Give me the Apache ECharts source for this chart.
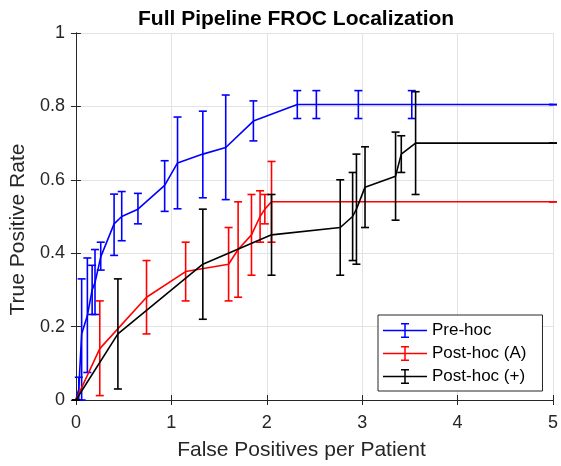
<!DOCTYPE html>
<html>
<head>
<meta charset="utf-8">
<script src="https://cdn.jsdelivr.net/npm/echarts@6/dist/echarts.min.js"></script>
<style>
  html, body { margin: 0; padding: 0; background: #ffffff; }
  #chart { width: 561px; height: 466px; }
</style>
</head>
<body>
<div id="chart"></div>
<script>
// ---- Data ----
const xTicks = [0, 1, 2, 3, 4, 5];
const yTicks = [0, 0.2, 0.4, 0.6, 0.8, 1];

const seriesNames = ['Pre-hoc', 'Post-hoc (A)', 'Post-hoc (+)'];
const seriesColors = ['#0000ff', '#ff0000', '#000000'];

// Pre-hoc
const preFP  = [0, 0.03, 0.06, 0.12, 0.17, 0.20, 0.26, 0.40, 0.48, 0.65, 0.93, 1.065, 1.33, 1.57, 1.86, 2.32, 2.52, 2.96, 3.52, 5];
const preTPR = [0, 0.03, 0.18, 0.23, 0.30, 0.32, 0.39, 0.48, 0.50, 0.52, 0.585, 0.646, 0.67, 0.688, 0.76, 0.805, 0.805, 0.805, 0.805, 0.805];
const preLo  = [0, 0, 0, 0.075, 0.233, 0.233, 0.354, 0.394, 0.434, 0.48, 0.514, 0.521, 0.551, 0.546, 0.706, 0.767, 0.767, 0.767, 0.767, 0.805];
const preHi  = [0, 0.062, 0.33, 0.387, 0.367, 0.41, 0.43, 0.561, 0.568, 0.563, 0.652, 0.771, 0.787, 0.831, 0.815, 0.843, 0.843, 0.843, 0.843, 0.805];

// Post-hoc (A)
const postAFP  = [0, 0.25, 0.74, 1.15, 1.60, 1.70, 1.84, 1.93, 1.98, 2.05, 5];
const postATPR = [0, 0.14, 0.28, 0.35, 0.37, 0.41, 0.45, 0.50, 0.52, 0.54, 0.54];
const postALo  = [0, 0.012, 0.18, 0.27, 0.27, 0.28, 0.34, 0.43, 0.48, 0.43, 0.54];
const postAHi  = [0, 0.27, 0.38, 0.43, 0.47, 0.54, 0.56, 0.57, 0.56, 0.65, 0.54];

// Post-hoc (+)
const postPFP  = [0, 0.44, 1.33, 2.05, 2.77, 2.90, 2.94, 3.03, 3.35, 3.41, 3.56, 5];
const postPTPR = [0, 0.18, 0.37, 0.45, 0.47, 0.50, 0.52, 0.58, 0.61, 0.67, 0.70, 0.70];
const postPLo  = [0, 0.03, 0.22, 0.34, 0.34, 0.38, 0.37, 0.47, 0.49, 0.62, 0.56, 0.70];
const postPHi  = [0, 0.33, 0.52, 0.56, 0.60, 0.62, 0.67, 0.69, 0.73, 0.72, 0.84, 0.70];

// ---- Build ----
const groups = [
  [preFP, preTPR, preLo, preHi],
  [postAFP, postATPR, postALo, postAHi],
  [postPFP, postPTPR, postPLo, postPHi]
];

const FONT = 'Liberation Sans, Arial, Helvetica, sans-serif';
const TXT = '#262626';
const LW = 1.6;
const CAP = 4;

const legendIcon = 'path://M0,6.75H44V8.25H0Z M21.25,0H22.75V15H21.25Z M18,0H26V1.5H18Z M18,13.5H26V15H18Z';

function errRender(color) {
  return function (params, api) {
    const x = api.value(0), lo = api.value(1), hi = api.value(2);
    const t = api.coord([x, hi]);
    const b = api.coord([x, lo]);
    const st = { stroke: color, lineWidth: LW, fill: null };
    return {
      type: 'group',
      children: [
        { type: 'line', shape: { x1: t[0], y1: t[1], x2: b[0], y2: b[1] }, style: st },
        { type: 'line', shape: { x1: t[0] - CAP, y1: t[1], x2: t[0] + CAP, y2: t[1] }, style: st },
        { type: 'line', shape: { x1: b[0] - CAP, y1: b[1], x2: b[0] + CAP, y2: b[1] }, style: st }
      ]
    };
  };
}

const series = [];
groups.forEach((g, i) => {
  const [fp, tpr, lo, hi] = g;
  series.push({
    name: seriesNames[i],
    type: 'line',
    data: fp.map((v, k) => [v, tpr[k]]),
    symbol: 'none',
    lineStyle: { color: seriesColors[i], width: LW },
    itemStyle: { color: seriesColors[i] },
    clip: false,
    z: 2 + i * 2,
    animation: false
  });
  series.push({
    name: seriesNames[i],
    type: 'custom',
    data: fp.map((v, k) => [v, lo[k], hi[k]]),
    encode: { x: 0, y: [1, 2] },
    renderItem: errRender(seriesColors[i]),
    itemStyle: { color: seriesColors[i] },
    clip: false,
    z: 3 + i * 2,
    animation: false
  });
});

const axisCommon = {
  axisLine: { show: true, lineStyle: { color: TXT, width: 1 } },
  axisTick: { show: true, inside: true, length: 5, lineStyle: { color: TXT, width: 1 } },
  splitLine: { show: false }
};

const option = {
  animation: false,
  backgroundColor: '#ffffff',
  title: {
    text: 'Full Pipeline FROC Localization',
    left: 133,
    top: 4,
    textStyle: { fontFamily: FONT, fontSize: 21, fontWeight: 'bold', color: '#000000' }
  },
  grid: { left: 75, right: 4, top: 33, bottom: 60, containLabel: false },
  legend: {
    orient: 'vertical',
    left: 378,
    top: 315,
    itemWidth: 44,
    itemHeight: 15,
    itemGap: 6,
    padding: [7, 16, 6, 5],
    backgroundColor: '#ffffff',
    borderColor: TXT,
    borderWidth: 1,
    borderRadius: 0,
    textStyle: { fontFamily: FONT, fontSize: 17, color: '#000000' },
    itemStyle: { borderWidth: 0 },
    data: seriesNames.map((n, i) => ({ name: n, icon: legendIcon, itemStyle: { color: seriesColors[i], borderWidth: 0 } }))
  },
  xAxis: [
    Object.assign({}, axisCommon, {
      type: 'value', min: xTicks[0], max: xTicks[xTicks.length - 1], interval: 1,
      position: 'bottom',
      splitLine: { show: true, lineStyle: { color: '#e3e3e3', width: 1 } },
      axisLabel: { margin: 14, fontFamily: FONT, fontSize: 18, color: TXT, formatter: v => String(v) },
      name: 'False Positives per Patient',
      nameLocation: 'middle',
      nameGap: 40,
      nameTextStyle: { fontFamily: FONT, fontSize: 21, color: TXT, padding: [0, 26, 0, 0] }
    }),
    Object.assign({}, axisCommon, {
      type: 'value', min: xTicks[0], max: xTicks[xTicks.length - 1], interval: 1,
      position: 'top', axisLabel: { show: false }
    })
  ],
  yAxis: [
    Object.assign({}, axisCommon, {
      type: 'value', min: yTicks[0], max: yTicks[yTicks.length - 1], interval: 0.2,
      position: 'left',
      splitLine: { show: true, lineStyle: { color: '#e3e3e3', width: 1 } },
      axisLabel: { margin: 11, fontFamily: FONT, fontSize: 18, color: TXT, formatter: v => String(Math.round(v * 10) / 10) },
      name: 'True Positive Rate',
      nameLocation: 'middle',
      nameGap: 38,
      nameTextStyle: { fontFamily: FONT, fontSize: 21, color: TXT, padding: [0, 26, 0, 0] }
    }),
    Object.assign({}, axisCommon, {
      type: 'value', min: yTicks[0], max: yTicks[yTicks.length - 1], interval: 0.2,
      position: 'right', axisLabel: { show: false }
    })
  ],
  series: series
};

const chart = echarts.init(document.getElementById('chart'), null, { renderer: 'canvas' });
chart.setOption(option);
</script>
</body>
</html>
